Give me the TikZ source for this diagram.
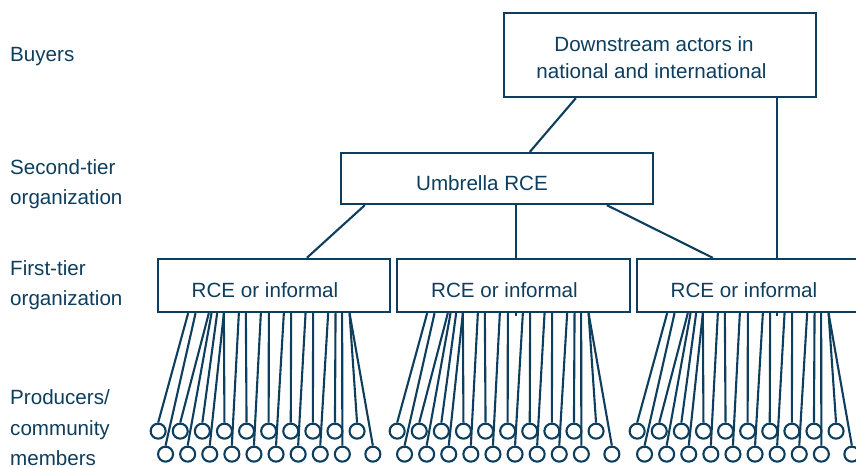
\documentclass[tikz,border=0pt]{standalone}
\usepackage{fontspec}
\setmainfont{Liberation Sans}
\usetikzlibrary{calc,backgrounds}
\definecolor{navy}{HTML}{0E3E5E}
\begin{document}
\begin{tikzpicture}[x=1pt,y=-1pt,
  box/.style={draw=navy, line width=2.3pt, fill=white, inner sep=0pt},
  lbl/.style={text=navy, font=\fontsize{20.6}{27}\selectfont, inner sep=0pt, anchor=base},
  side/.style={lbl, anchor=base west},
  link/.style={draw=navy, line width=2.1pt},
  prod/.style={circle, draw=navy, line width=2.1pt, minimum size=15pt, inner sep=0pt}]
\path[use as bounding box, clip] (0,0) rectangle (856,468);

% boxes
\node[box, minimum width=312pt, minimum height=84pt] (down) at (660,55) {};
\node[box, minimum width=312pt, minimum height=51pt] (umb) at (497,178.5) {};
\node[box, minimum width=232pt, minimum height=53pt] (rce1) at (274,285.5) {};
\node[box, minimum width=233pt, minimum height=53pt] (rce2) at (513.5,285.5) {};
\node[box, minimum width=233pt, minimum height=53pt] (rce3) at (753.5,285.5) {};

% box texts
\node[lbl] (t1a) at (654,51.7) {Downstream actors in};
\node[lbl] (t1b) at (651.5,79) {national and international};
\node[lbl] (t2) at (482,190) {Umbrella RCE};
\node[lbl] (t3) at (265,297) {RCE or informal};
\node[lbl] (t4) at (504.5,297) {RCE or informal};
\node[lbl] (t5) at (744,297) {RCE or informal};

% side labels
\node[side] (s1) at (10,61.5) {Buyers};
\node[side] (s2a) at (10,174.5) {Second-tier};
\node[side] (s2b) at (10,204) {organization};
\node[side] (s3a) at (10,275) {First-tier};
\node[side] (s3b) at (10,305) {organization};
\node[side] (s4a) at (10,404) {Producers/};
\node[side] (s4b) at (10,435.5) {community};
\node[side] (s4c) at (10,465.5) {members};

% producers
\foreach \g in {1,2,3}{
  \foreach \cx [count=\k] in {1.3,23.4,45.5,67.6,89.7,111.8,133.9,156,178.1,200.2}
    \node[prod] (p\g a\k) at ($(rce\g.south west)+(\cx,118)$) {};
  \foreach \cx [count=\k] in {8.7,30.8,52.9,75,97.1,119.2,141.3,163.4,185.5,216}
    \node[prod] (p\g b\k) at ($(rce\g.south west)+(\cx,141)$) {};
}

\begin{scope}[on background layer]
  \draw[link] ($(down.south west)+(73,0)$) -- ($(umb.north west)+(190,0)$);
  \draw[link] ($(down.south west)+(274,0)$) -- ($(rce3.south west)+(141,3)$);
  \draw[link] ($(umb.south west)+(25,0)$) -- ($(rce1.north west)+(150,0)$);
  \draw[link] ($(umb.south west)+(176,0)$) -- ($(rce2.south west)+(120,3)$);
  \draw[link] ($(umb.south west)+(267,0)$) -- ($(rce3.north west)+(77,0)$);
  \foreach \g in {1,2,3}{
    \foreach \t [count=\k] in {31.3,52,60.3,67,89,112,134.3,156.3,178.7,192.7}
      \draw[link] ($(rce\g.south west)+(\t,0)$) -- (p\g a\k.north);
    \foreach \t [count=\k] in {38.7,54.7,67,82,104,127,148.7,171.3,185.3,192.7}
      \draw[link] ($(rce\g.south west)+(\t,0)$) -- (p\g b\k.north);
  }
\end{scope}
\end{tikzpicture}
\end{document}
